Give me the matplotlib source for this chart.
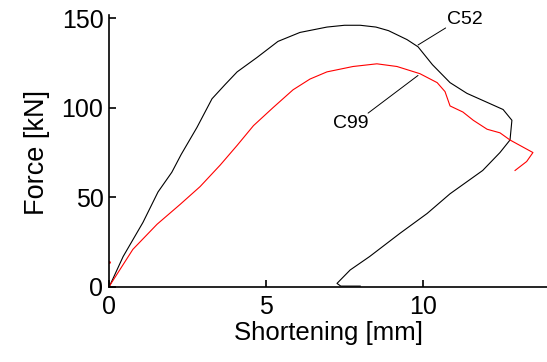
import matplotlib.pyplot as plt

# C52 (black) - shortening [mm], force [kN]
c52_x = [0.0, 0.03, 0.45, 1.08, 1.56, 2.0, 2.3, 2.8, 3.28, 3.7, 4.08, 4.71,
         5.38, 6.08, 6.94, 7.5, 8.0, 8.5, 8.9, 9.49, 9.84, 10.3, 10.86, 11.4,
         12.04, 12.55, 12.83, 12.77, 12.45, 11.9, 10.86, 10.13, 9.27, 8.3,
         7.68, 7.26, 7.38, 8.0]
c52_y = [0.0, 1, 17, 36, 53, 64, 74, 89, 105, 113, 120, 128,
         137, 142, 145, 146, 146, 145, 143, 138, 134, 124, 114, 108,
         103, 99, 93, 82, 75, 65, 52, 41, 30, 17,
         9.5, 2, 0.5, 0.5]

# C99 (red)
c99_x = [0.0, 0.03, 0.76, 1.53, 2.26, 2.9, 3.54, 4.08, 4.6, 5.22, 5.86, 6.4,
         6.94, 7.77, 8.53, 9.17, 9.9, 10.45, 10.7, 10.86, 11.27, 11.6, 12.04,
         12.45, 12.77, 13.5, 13.3, 12.93]
c99_y = [0.0, 1, 21, 35, 46, 56, 68, 79, 90, 100, 110, 116,
         120, 123, 124.5, 123, 119, 114, 109, 101, 97.6, 93, 88,
         86, 82, 75, 70, 65]

plt.rcParams['font.family'] = ['Liberation Sans', 'DejaVu Sans']

fig = plt.figure(figsize=(5.47, 3.62), dpi=100)
ax = fig.add_axes([0.1993, 0.2072, 0.8037, 0.7428])

ax.plot(c52_x, c52_y, color="black", lw=0.8)
ax.plot(c99_x, c99_y, color="red", lw=0.8)
ax.plot([0], [14], ".", color="red", ms=2)

# leader lines and labels
ax.annotate("", xy=(9.84, 135), xytext=(10.72, 144.5),
            arrowprops=dict(arrowstyle="-", color="black", lw=0.7,
                            shrinkA=0, shrinkB=0))
ax.text(10.75, 149, "C52", fontsize=14, va="center", ha="left")
ax.annotate("", xy=(9.84, 118), xytext=(8.25, 97),
            arrowprops=dict(arrowstyle="-", color="black", lw=0.7,
                            shrinkA=0, shrinkB=0))
ax.text(8.25, 91, "C99", fontsize=14, va="center", ha="right")

ax.set_xlim(0, 14)
ax.set_ylim(0, 150)
ax.set_xticks([0, 5, 10])
ax.set_yticks([0, 50, 100, 150])
ax.spines["top"].set_visible(False)
ax.spines["right"].set_visible(False)
ax.spines["left"].set_bounds(0, 152)
for s in ("left", "bottom"):
    ax.spines[s].set_linewidth(1.2)
ax.tick_params(direction="in", length=5, width=1.2, labelsize=18)
ax.tick_params(axis="x", pad=6)
ax.tick_params(axis="y", pad=4)

ax.set_xlabel("Shortening [mm]", fontsize=18.5, labelpad=1)
ax.set_ylabel("Force [kN]", fontsize=19.5, labelpad=8)

fig.savefig("out.png", dpi=100)
